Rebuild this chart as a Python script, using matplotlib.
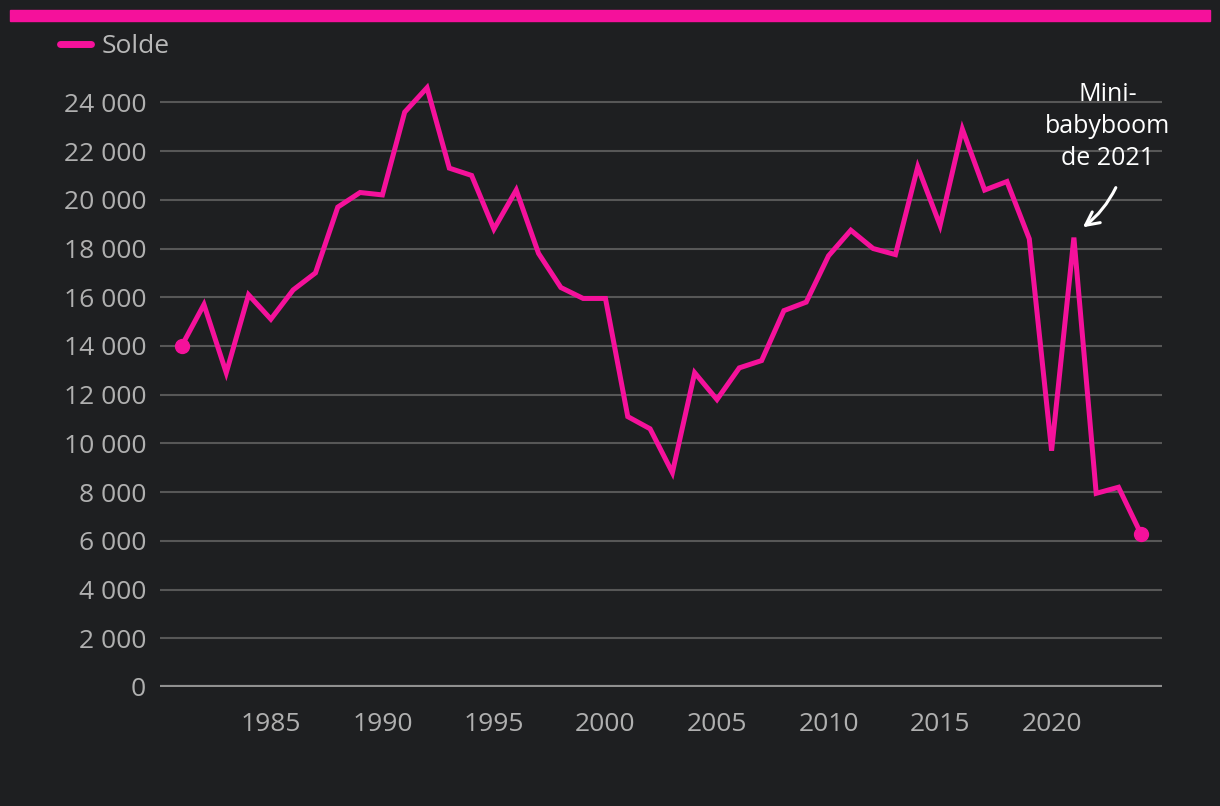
import numpy as np
import matplotlib
matplotlib.use('Agg')
import matplotlib.pyplot as plt
from matplotlib.ticker import FuncFormatter
from matplotlib.patches import Rectangle

years = list(range(1981, 2025))
solde = [14000, 15700, 12900, 16100, 15100, 16300, 17000, 19700, 20300, 20200,
         23600, 24600, 21300, 21000, 18800, 20400, 17800, 16400, 15950, 15950,
         11100, 10600, 8800, 12900, 11800, 13100, 13400, 15450, 15800, 17700,
         18750, 18000, 17750, 21350, 18950, 22900, 20400, 20750, 18400, 9700,
         18450, 7950, 8200, 6300]
yticks = list(range(0, 24001, 2000))
xticks = [1985, 1990, 1995, 2000, 2005, 2010, 2015, 2020]
note = "Mini-\nbabyboom\nde 2021"

bg = '#1e1f21'
pink = '#f5119b'
plt.rcParams['font.family'] = ['Open Sans', 'DejaVu Sans']

fig = plt.figure(figsize=(12.2, 8.06), dpi=100, facecolor=bg)
ax = fig.add_axes([160/1220, 1-687/806, 1002/1220, 609/806])
ax.set_facecolor(bg)

# bande du haut
fig.patches.append(Rectangle((10/1220, 1-21/806), 1200/1220, 11/806,
                             transform=fig.transFigure, color=pink, zorder=0))

for v in yticks[1:]:
    ax.axhline(v, color='#575757', lw=1.5, zorder=1)
ax.axhline(0, color='#909090', lw=3, zorder=2)

line, = ax.plot(years, solde, color=pink, lw=3.6, solid_joinstyle='miter', zorder=3, label='Solde')
ax.plot([years[0], years[-1]], [solde[0], solde[-1]], 'o', color=pink, ms=10, zorder=4)

ax.set_xlim(1980.03, 2024.95)
ax.set_ylim(0, 25000)
ax.set_yticks(yticks)
ax.set_xticks(xticks)
ax.yaxis.set_major_formatter(FuncFormatter(lambda v, p: f"{int(v):,}".replace(',', ' ')))
ax.tick_params(axis='both', length=0, labelsize=19, colors='#b0b0b0')
ax.tick_params(axis='y', pad=10)
ax.tick_params(axis='x', pad=18)
for s in ax.spines.values():
    s.set_visible(False)

ax.text(2022.5, 23000, note, ha='center', va='center', color='white',
        fontsize=18, linespacing=1.38)
ax.annotate('', xy=(2021.4, 18870), xytext=(2022.88, 20500),
            arrowprops=dict(arrowstyle='->', color='white', lw=2.2,
                            connectionstyle='arc3,rad=-0.12',
                            shrinkA=0, shrinkB=0, mutation_scale=24))

leg = fig.legend(handles=[line], loc='upper left', bbox_to_anchor=(36/1220, 1-10/806),
                 frameon=False, fontsize=19, handlelength=1.2, handletextpad=0.4,
                 labelcolor='#b8b8b8')
leg.get_lines()[0].set_linewidth(5)
leg.get_lines()[0].set_solid_capstyle('round')

fig.savefig('out.png', dpi=100, facecolor=bg)
